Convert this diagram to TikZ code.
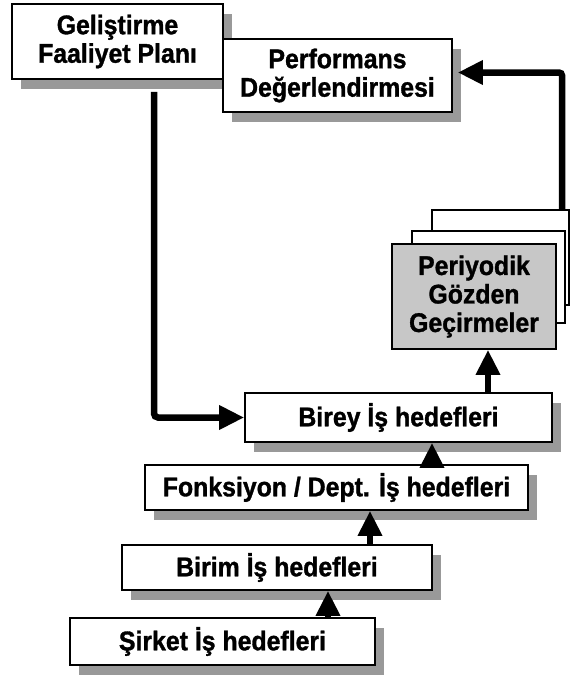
\documentclass[tikz,border=0pt]{standalone}
\usepackage{fontspec}
\setmainfont{Liberation Sans}
\newfontfamily\lblfont{Liberation Sans Bold}[FakeStretch=0.92, FakeBold=1.2]
\usetikzlibrary{arrows.meta,shadows,calc}
\definecolor{shade}{gray}{0.6}
\definecolor{panel}{gray}{0.78}
\begin{document}
\begin{tikzpicture}[x=1pt,y=-1pt,
  boxbase/.style={draw=black, line width=1.6pt, fill=white, inner sep=0pt,
    align=center, font=\lblfont\fontsize{27}{28.5}\selectfont},
  box/.style={boxbase,
    general shadow={fill=shade, shadow xshift=9pt, shadow yshift=-10pt}},
  page/.style={draw=black, line width=1.6pt, fill=white, inner sep=0pt},
  flow/.style={line width=6.5pt, -{Triangle[length=25pt,width=23pt]}},
]
\useasboundingbox (0,0) rectangle (570,681);

% x positions of the vertical connectors
\coordinate (ax1) at (328,0);
\coordinate (ax2) at (370,0);
\coordinate (ax3) at (432,0);
\coordinate (ax4) at (488,0);
\coordinate (rx)  at (562,0);

% top boxes
\node[box, minimum width=211pt, minimum height=75pt] (gel) at (117.5,41.5)
  {Geliştirme\\Faaliyet Planı};
\node[box, minimum width=229pt, minimum height=73pt] (perf) at (337.5,75.5)
  {Performans\\Değerlendirmesi};

% stacked review sheets
\node[page, minimum width=137pt, minimum height=95pt] (back1) at (500.5,257.5) {};
\node[page, minimum width=153pt, minimum height=92pt] (back2) at (488.5,277) {};
\node[boxbase, fill=panel, minimum width=164pt, minimum height=105pt] (per) at (474,296.5)
  {Periyodik\\Gözden\\Geçirmeler};

% objective levels
\node[box, minimum width=307pt, minimum height=49pt] (birey) at (398.5,417.5)
  {Birey İş hedefleri};
\node[box, minimum width=383pt, minimum height=45pt] (fonk) at (336.5,487.5)
  {Fonksiyon / Dept. İş hedefleri};
\node[box, minimum width=310pt, minimum height=45pt] (birim) at (277,567.5)
  {Birim İş hedefleri};
\node[box, minimum width=305pt, minimum height=47pt] (sirket) at (222.5,641.5)
  {Şirket İş hedefleri};

% connectors
\draw[flow] (ax1 |- sirket.north) -- (ax1 |- birim.south);
\draw[flow] (ax2 |- birim.north) -- (ax2 |- fonk.south);
\draw[flow] (ax3 |- fonk.north) -- (ax3 |- birey.south);
\draw[flow] (ax4 |- birey.north) -- (ax4 |- per.south);
\draw[flow, rounded corners=3pt] (rx |- back1.north) |- ($(perf.east)+(5,-3)$);
\draw[flow, rounded corners=4pt] ($(gel.south)+(36.5,12)$) |- (birey.west);
\end{tikzpicture}
\end{document}
